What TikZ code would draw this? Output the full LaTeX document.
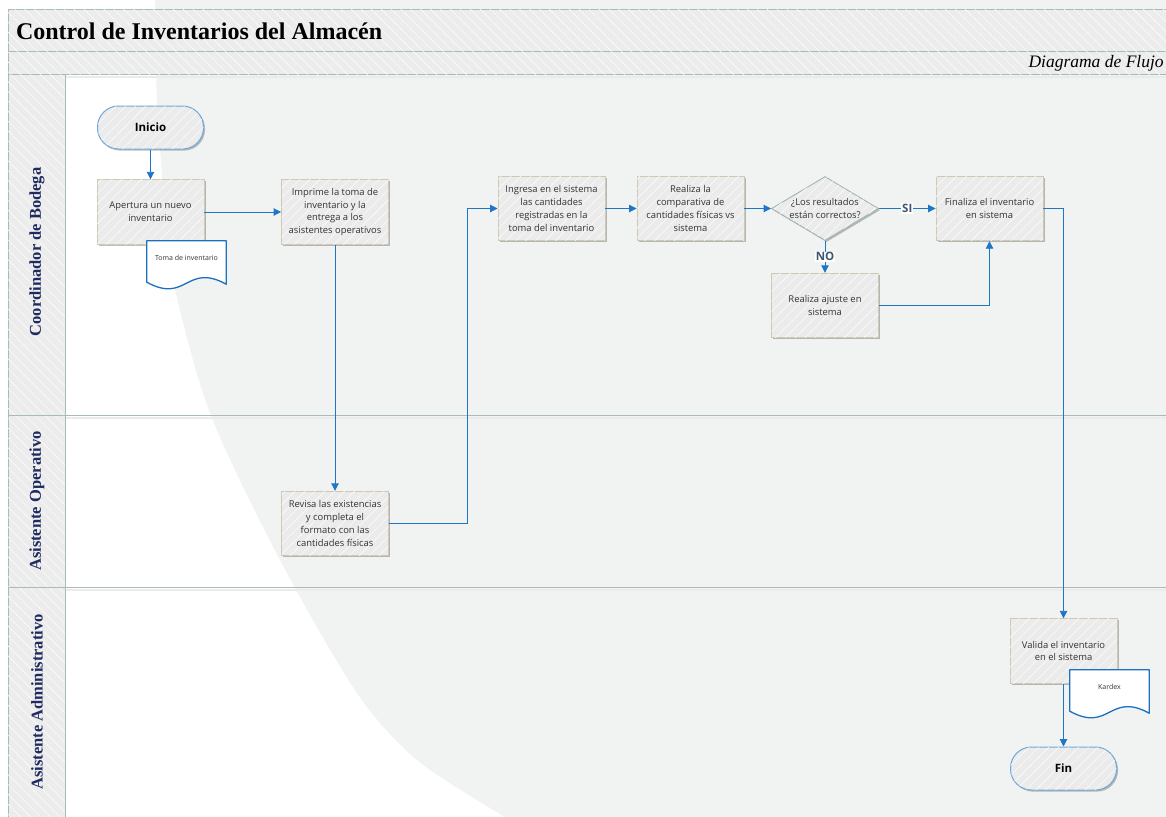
\documentclass[tikz,border=0pt]{standalone}
\usepackage{fontspec}
\setmainfont{Liberation Serif}
\newfontfamily\boxfont{Open Sans}
\usetikzlibrary{shapes.geometric,shadows,patterns.meta,arrows.meta,calc}

\definecolor{bgshade}{HTML}{F1F3F3}
\definecolor{bandfill}{HTML}{ECECEC}
\definecolor{frameline}{HTML}{A8BCB5}
\definecolor{boxfill}{HTML}{EBEBEB}
\definecolor{boxline}{HTML}{CFC8B2}
\definecolor{diamline}{HTML}{A2B7B0}
\definecolor{termline}{HTML}{6FA7DA}
\definecolor{docblue}{HTML}{1C70C0}
\definecolor{flowblue}{HTML}{1F76C6}
\definecolor{boxtext}{HTML}{333333}
\definecolor{lanetext}{HTML}{1F2B5E}
\definecolor{lbltext}{HTML}{3E5470}

\pgfdeclarelayer{docshape}
\pgfdeclarelayer{doctext}
\pgfsetlayers{main,docshape,doctext}

\tikzset{
  hatch/.style={postaction={fill opacity=.45, pattern color=white,
      pattern={Lines[angle=#1,distance=7pt,line width=.45pt]}}},
  band/.style={fill=bandfill, draw=frameline, line width=1pt, hatch=-45},
  laneline/.style={draw=frameline, line width=1pt},
  laneshade/.style={draw=black!8, line width=2pt},
  softshadow/.style={drop shadow={shadow xshift=1.5pt, shadow yshift=-1.6pt,
      opacity=.25, fill=black}},
  proc/.style={rectangle, draw=boxline, line width=.9pt, fill=boxfill,
    minimum width=107pt, minimum height=64.5pt, inner sep=1pt, align=center,
    font=\boxfont\fontsize{9.4}{12.8}\selectfont, text=boxtext,
    softshadow, hatch=45},
  decision/.style={diamond, draw=diamline, line width=.9pt, fill=boxfill,
    minimum width=107pt, minimum height=64pt, inner sep=0pt, aspect=1.67,
    softshadow, hatch=45},
  qtext/.style={align=center, font=\boxfont\fontsize{9.4}{12.8}\selectfont,
    text=boxtext, inner sep=0pt},
  terminal/.style={rectangle, rounded corners=21pt, draw=termline,
    line width=1pt, fill=boxfill, minimum width=106pt, minimum height=43pt,
    font=\boxfont\bfseries\fontsize{11.5}{13}\selectfont, text=black,
    softshadow, hatch=45},
  docbody/.style={rectangle, minimum width=79pt, minimum height=34pt,
    inner sep=0pt, font=\boxfont\fontsize{7}{8}\selectfont, text=boxtext},
  docline/.style={draw=docblue, line width=1.3pt, fill=white, line join=round},
  flow/.style={draw=flowblue, line width=.9pt,
    -{Triangle[length=7.5pt,width=7.5pt]}},
  answer/.style={fill=white, inner sep=1pt,
    font=\boxfont\bfseries\fontsize{11.5}{13}\selectfont, text=lbltext},
  lanelabel/.style={rotate=90, font=\bfseries\fontsize{16.5}{20}\selectfont,
    text=lanetext}
}

\begin{document}
\begin{tikzpicture}[x=1pt,y=-1pt]
\useasboundingbox (0,0) rectangle (1166,816);

% page background, bands and swimlanes
\begin{scope}
  \clip (0,0) rectangle (1166,816);
  \fill[white] (0,0) rectangle (1166,816);
  \fill[bgshade] plot[smooth] coordinates {(154,-20) (155,0) (157,100)
      (164,200) (173,280) (210,413) (280,560) (357,693) (417,760)
      (503,816) (530,832)}
    -- (1200,832) -- (1200,-20) -- cycle;
  \path[band] (8,10) rectangle (1180,52);
  \path[band] (8,52) rectangle (1180,74);
  \draw[laneshade] (65,76.5) -- (1180,76.5);
  \draw[laneshade] (65,417.5) -- (1180,417.5);
  \draw[laneshade] (65,589.5) -- (1180,589.5);
  \path[band] (8,74) rectangle (65,830);
  \draw[laneline] (8,415) -- (1180,415);
  \draw[laneline] (8,587) -- (1180,587);
  \draw[laneline] (65,74) -- (65,830);
  \node[anchor=west, font=\bfseries\fontsize{24}{28}\selectfont] (title)
    at (12.5,31) {Control de Inventarios del Almacén};
  \node[anchor=west, font=\itshape\fontsize{17.5}{20}\selectfont] (subtitle)
    at (1025,63) {Diagrama de Flujo};
\end{scope}

\node[lanelabel] (lane1) at (37,252) {Coordinador de Bodega};
\node[lanelabel] (lane2) at (37,501) {Asistente Operativo};
\node[lanelabel] (lane3) at (37,702) {Asistente Administrativo};

% process steps
\node[terminal] (inicio) at (150.5,127.5) {Inicio};
\node[proc] (apertura) at (150.5,212) {Apertura un nuevo\\inventario};
\node[proc] (imprime) at (335,212) {Imprime la toma de\\inventario y la\\entrega a los\\asistentes operativos};
\node[proc] (ingresa) at (551.5,208.5) {Ingresa en el sistema\\las cantidades\\registradas en la\\toma del inventario};
\node[proc] (compara) at (690.5,208.5) {Realiza la\\comparativa de\\cantidades físicas vs\\sistema};
\node[decision, label={[qtext]center:{¿Los resultados\\están correctos?}}] (decision) at (825,208.5) {};
\node[proc] (finaliza) at (989.5,208.5) {Finaliza el inventario\\en sistema};
\node[proc] (ajuste) at (825,305.5) {Realiza ajuste en\\sistema};
\node[proc] (revisa) at (335,523.5) {Revisa las existencias\\y completa el\\formato con las\\cantidades físicas};
\node[proc] (valida) at (1063.5,651) {Valida el inventario\\en el sistema};
\node[terminal] (fin) at (1063.5,768.5) {Fin};

% documents
\begin{pgfonlayer}{doctext}
  \node[docbody] (toma) at (186.5,258) {Toma de inventario};
  \node[docbody] (kardex) at (1109.5,687) {Kardex};
\end{pgfonlayer}
\begin{pgfonlayer}{docshape}
  \foreach \d in {toma,kardex}{
    \path[docline] ($(\d.south west)+(0,7)$) -- (\d.north west)
      -- (\d.north east) -- ($(\d.south east)+(0,9)$)
      .. controls ($(\d.south east)+(-40,-13)$) and ($(\d.south west)+(40,29)$)
      .. ($(\d.south west)+(0,7)$) -- cycle;
  }
\end{pgfonlayer}

% connectors
\draw[flow] (inicio) -- (apertura);
\draw[flow] (apertura) -- (imprime);
\draw[flow] (imprime) -- (revisa);
\draw[flow] (revisa.east) -- ++(78,0) |- (ingresa.west);
\draw[flow] (ingresa) -- (compara);
\draw[flow] (compara) -- (decision);
\draw[flow] (decision) -- node[answer] {SI} (finaliza);
\draw[flow] (decision) -- node[answer] {NO} (ajuste);
\draw[flow] (ajuste.east) -| (finaliza.south);
\draw[flow] (finaliza.east) -| (valida.north);
\draw[flow] (valida) -- (fin);
\end{tikzpicture}
\end{document}
